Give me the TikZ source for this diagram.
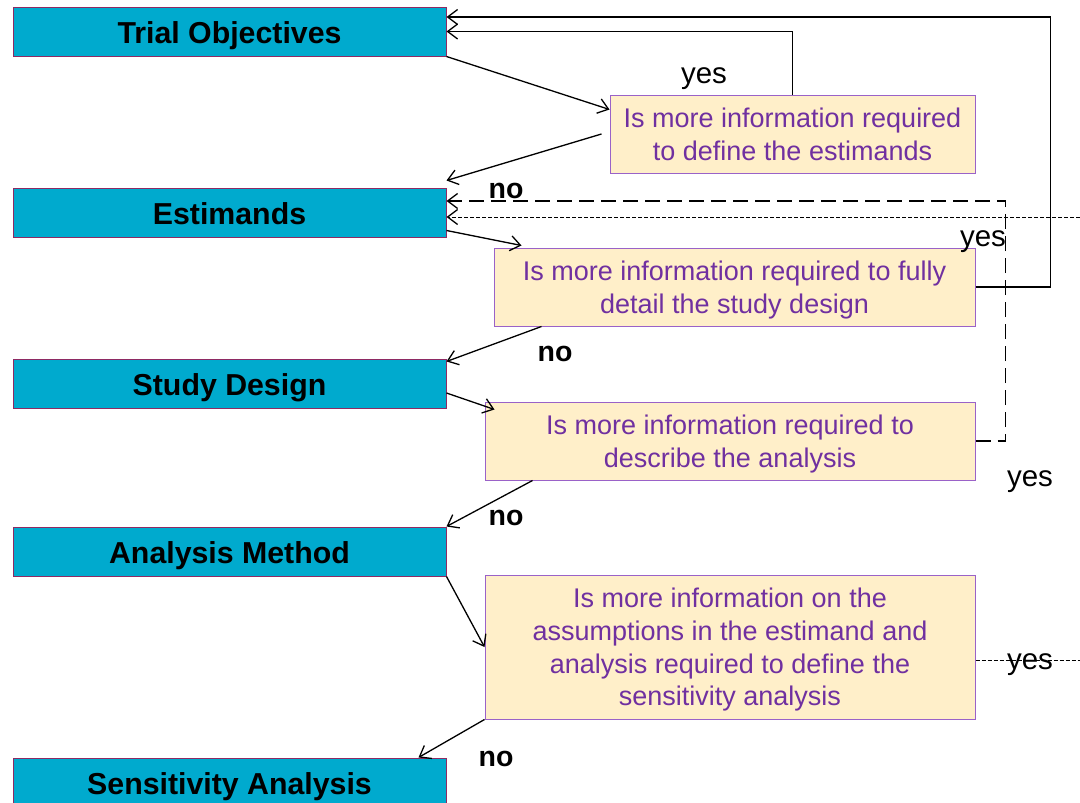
\documentclass[tikz,border=0pt]{standalone}
\usepackage{fontspec}
\setmainfont{Liberation Sans}
\usetikzlibrary{arrows.meta}
\definecolor{stageblue}{HTML}{00AACE}
\definecolor{stageedge}{HTML}{8E2A63}
\definecolor{askfill}{HTML}{FFEFC9}
\definecolor{askedge}{HTML}{9A62C8}
\definecolor{asktext}{HTML}{7030A0}
\tikzset{
  stage/.style={draw=stageedge, line width=1pt, fill=stageblue, minimum width=433pt,
    minimum height=49pt, inner sep=0pt, text height=24.4pt, text depth=0pt,
    font=\fontsize{30.3}{34}\selectfont\bfseries},
  ask/.style={draw=askedge, line width=1pt, fill=askfill, inner sep=0pt, align=center,
    text depth=0pt, text=asktext, font=\fontsize{27}{32.6}\selectfont},
  tip/.style={-{Straight Barb[length=10pt,width=15pt,line width=1.3pt]}},
  arr/.style={line width=1.3pt, tip},
  longdash/.style={line width=1.3pt, dash pattern=on 15pt off 7pt},
  shortdash/.style={line width=1pt, dash pattern=on 4pt off 2pt},
  yeslbl/.style={inner sep=0pt, font=\fontsize{29.5}{32}\selectfont},
  nolbl/.style={inner sep=0pt, font=\fontsize{28.5}{32}\selectfont\bfseries},
}
\begin{document}
\begin{tikzpicture}[x=1pt, y=-1pt]
\useasboundingbox (0,0) rectangle (1080,803);

% stages of the framework
\node[stage] (to)  at (229.5,31.5)  {Trial Objectives};
\node[stage] (est) at (229.5,212.5) {Estimands};
\node[stage] (sd)  at (229.5,383.5) {Study Design};
\node[stage] (am)  at (229.5,551.5) {Analysis Method};
\node[stage] (sa)  at (229.5,782.5) {Sensitivity Analysis};

% questions between stages
\node[ask, minimum width=365pt, minimum height=78pt] (q1) at (792.5,134)
  {Is more information required\\to define the estimands};
\node[ask, minimum width=481pt, minimum height=78pt] (q2) at (734.5,287)
  {Is more information required to fully\\detail the study design};
\node[ask, minimum width=490pt, minimum height=78pt] (q3) at (730,441)
  {Is more information required to\\describe the analysis};
\node[ask, minimum width=490pt, minimum height=144pt] (q4) at (730,647)
  {Is more information on the\\assumptions in the estimand and\\analysis required to define the\\sensitivity analysis};

% forward flow
\draw[arr] (to.south east) -- ([yshift=-15pt]q1.north west);
\draw[arr] ([xshift=-8pt]q1.west) -- ([yshift=7pt]est.north east);
\draw[arr] ([yshift=7pt]est.south east) -- ([xshift=28pt,yshift=2pt]q2.north west);
\draw[arr] ([xshift=48pt]q2.south west) -- ([yshift=-3pt]sd.north east);
\draw[arr] ([yshift=-9.5pt]sd.east) -- ([xshift=10pt,yshift=-8pt]q3.north west);
\draw[arr] ([xshift=48pt]q3.south west) -- (am.north east);
\draw[arr] (am.south east) -- (q4.west);
\draw[arr] (q4.south west) -- ([xshift=-28pt]sa.north east);

% feedback loops
\draw[arr] (q1.north) |- (to.east);
\draw[arr] (q2.east) -- ++(75,0) |- ([yshift=14.5pt]to.east);
\draw[longdash, tip] (q3.east) -- ++(30,0) |- ([yshift=11.5pt]est.east);
\coordinate (edgeup) at (1080,217);
\coordinate (edgedown) at (1080,660);
\draw[shortdash, tip] (edgeup) -- ([yshift=-4.5pt]est.east);
\draw[shortdash] ([yshift=-13pt]q4.east) -- (edgedown);

% answers
\node[yeslbl] (y1) at (704,79) {yes};
\node[yeslbl] (y2) at (983,242) {yes};
\node[yeslbl] (y3) at (1030,482) {yes};
\node[yeslbl] (y4) at (1030,665) {yes};
\node[nolbl] (n1) at (506,191) {no};
\node[nolbl] (n2) at (555,354) {no};
\node[nolbl] (n3) at (506,518) {no};
\node[nolbl] (n4) at (496,759) {no};
\end{tikzpicture}
\end{document}
